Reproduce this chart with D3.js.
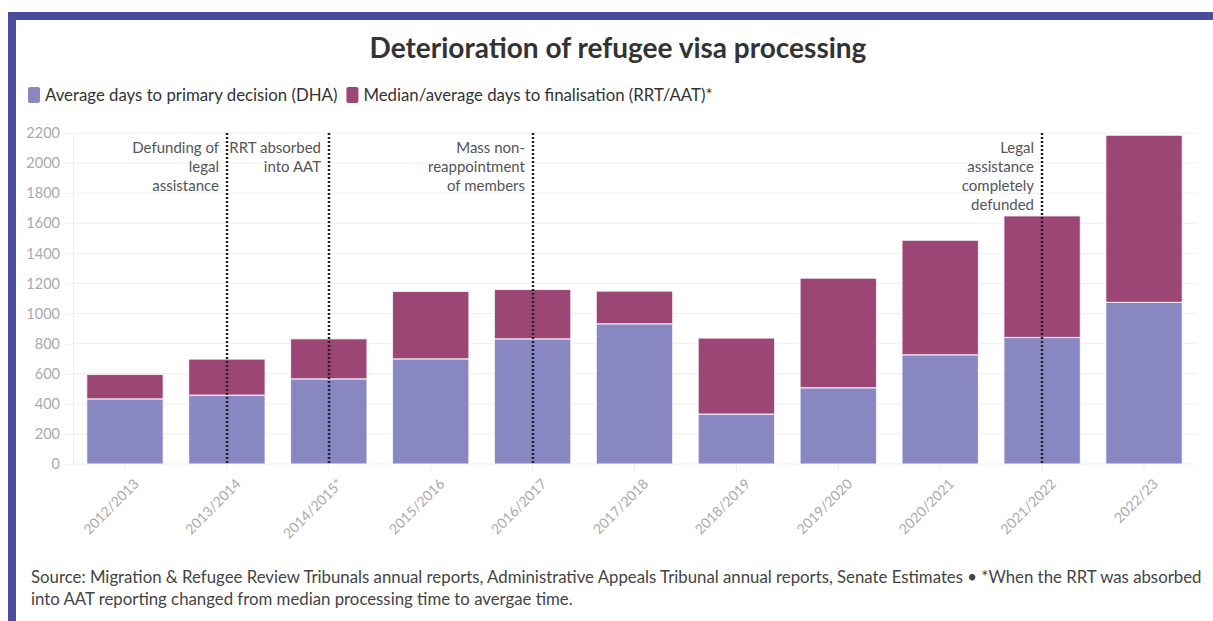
<!DOCTYPE html>
<html>
<head>
<meta charset="utf-8">
<script src="https://cdn.jsdelivr.net/npm/d3@7"></script>
<style>
  body { margin: 0; background: #fff; }
  svg { display: block; font-family: "Lato", "Noto Sans", sans-serif; }
</style>
</head>
<body>
<svg id="chart" width="1213" height="621"></svg>
<script>
// Financial years shown on the x axis
const seasons = ["2012/2013", "2013/2014", "2014/2015*", "2015/2016", "2016/2017",
                 "2017/2018", "2018/2019", "2019/2020", "2020/2021", "2021/2022", "2022/23"];
// Average days to primary decision (DHA)
const primaryDays = [433, 458, 566, 699, 832, 932, 332, 507, 726, 841, 1074];
// Median/average days to finalisation at review (RRT/AAT)
const finalisationDays = [162, 239, 266, 448, 328, 217, 505, 728, 761, 808, 1111];
// Y axis ticks
const yTicks = [0, 200, 400, 600, 800, 1000, 1200, 1400, 1600, 1800, 2000, 2200];
// Policy events marked with dotted lines
const eventSeasons = ["2013/2014", "2014/2015*", "2016/2017", "2021/2022"];
const eventLabels = [
  ["Defunding of", "legal", "assistance"],
  ["RRT absorbed", "into AAT"],
  ["Mass non-", "reappointment", "of members"],
  ["Legal", "assistance", "completely", "defunded"]
];
const seriesNames = ["Average days to primary decision (DHA)", "Median/average days to finalisation (RRT/AAT)*"];
const seriesColors = ["#8887c1", "#9c4676"];

const svg = d3.select("#chart");

// Page frame
svg.append("rect").attr("x", 8).attr("y", 12).attr("width", 1205).attr("height", 8).attr("fill", "#4a4d9e");
svg.append("rect").attr("x", 8).attr("y", 12).attr("width", 8).attr("height", 609).attr("fill", "#4a4d9e");

// Title
svg.append("text")
  .attr("x", 618).attr("y", 58)
  .attr("text-anchor", "middle")
  .attr("font-size", 28).attr("font-weight", 700).attr("fill", "#333")
  .text("Deterioration of refugee visa processing");

// Legend
const legend = svg.append("g").attr("transform", "translate(28,0)");
let lx = 0;
seriesNames.forEach((name, i) => {
  const g = legend.append("g").attr("transform", `translate(${lx},0)`);
  g.append("rect").attr("x", 0).attr("y", 87).attr("width", 12).attr("height", 16).attr("rx", 2)
    .attr("fill", seriesColors[i]);
  const t = g.append("text").attr("x", 17).attr("y", 101)
    .attr("font-size", 16.8).attr("fill", "#333").text(name);
  lx += 17 + t.node().getComputedTextLength() + 9;
});

// Scales
const x = d3.scaleBand().domain(seasons).range([74, 1195]).paddingInner(0.25).paddingOuter(0.125);
const y = d3.scaleLinear().domain([0, 2200]).range([464, 133]);

// Grid lines
svg.append("g").selectAll("line").data(yTicks).join("line")
  .attr("x1", 73).attr("x2", 1197)
  .attr("y1", d => y(d)).attr("y2", d => y(d))
  .attr("stroke", "#eeeeee").attr("stroke-width", 1);

// Y axis
const yAxis = svg.append("g").attr("transform", "translate(73,0)")
  .call(d3.axisLeft(y).tickValues(yTicks).tickFormat(d3.format("d")).tickSize(8).tickPadding(5));
yAxis.select(".domain").attr("stroke", "#eeeeee");
yAxis.selectAll(".tick line").attr("stroke", "#eeeeee");
yAxis.selectAll(".tick text").attr("fill", "#aaaaaa").attr("font-size", 14.5).attr("font-family", "Lato, sans-serif");

// X axis
const xAxis = svg.append("g").attr("transform", "translate(0,464)")
  .call(d3.axisBottom(x).tickSize(8).tickPadding(6));
xAxis.select(".domain").remove();
xAxis.selectAll(".tick line").attr("stroke", "#eeeeee");
xAxis.selectAll(".tick text")
  .attr("fill", "#aaaaaa").attr("font-size", 14).attr("font-family", "Lato, sans-serif")
  .attr("text-anchor", "end")
  .attr("dx", "-0.3em").attr("dy", "0.8em")
  .attr("transform", "rotate(-45)");

// Stacked bars
const rows = seasons.map((s, i) => ({ season: s, primary: primaryDays[i], finalisation: finalisationDays[i] }));
const stacked = d3.stack().keys(["primary", "finalisation"])(rows);
svg.append("g").selectAll("g").data(stacked).join("g")
  .attr("fill", (d, i) => seriesColors[i])
  .selectAll("rect").data(d => d).join("rect")
  .attr("x", d => x(d.data.season))
  .attr("width", x.bandwidth())
  .attr("y", d => y(d[1]))
  .attr("height", d => y(d[0]) - y(d[1]))
  .attr("stroke", "#ffffff").attr("stroke-opacity", 0.75).attr("stroke-width", 1.2);

// Event markers
const events = svg.append("g");
eventSeasons.forEach((s, i) => {
  const cx = Math.round(x(s) + x.bandwidth() / 2);
  events.append("line")
    .attr("x1", cx).attr("x2", cx).attr("y1", y(2200)).attr("y2", y(0))
    .attr("stroke", "#222").attr("stroke-width", 2.5).attr("stroke-dasharray", "2,2");
  const t = events.append("text")
    .attr("x", cx - 8).attr("y", 153)
    .attr("text-anchor", "end").attr("font-size", 15).attr("fill", "#555");
  eventLabels[i].forEach((line, j) => {
    t.append("tspan").attr("x", cx - 8).attr("dy", j === 0 ? 0 : 19).text(line);
  });
});

// Source note
const note = svg.append("text").attr("font-size", 16.8).attr("fill", "#444");
note.append("tspan").attr("x", 31).attr("y", 583)
  .text("Source: Migration & Refugee Review Tribunals annual reports, Administrative Appeals Tribunal annual reports, Senate Estimates • *When the RRT was absorbed");
note.append("tspan").attr("x", 31).attr("y", 605)
  .text("into AAT reporting changed from median processing time to avergae time.");
</script>
</body>
</html>
